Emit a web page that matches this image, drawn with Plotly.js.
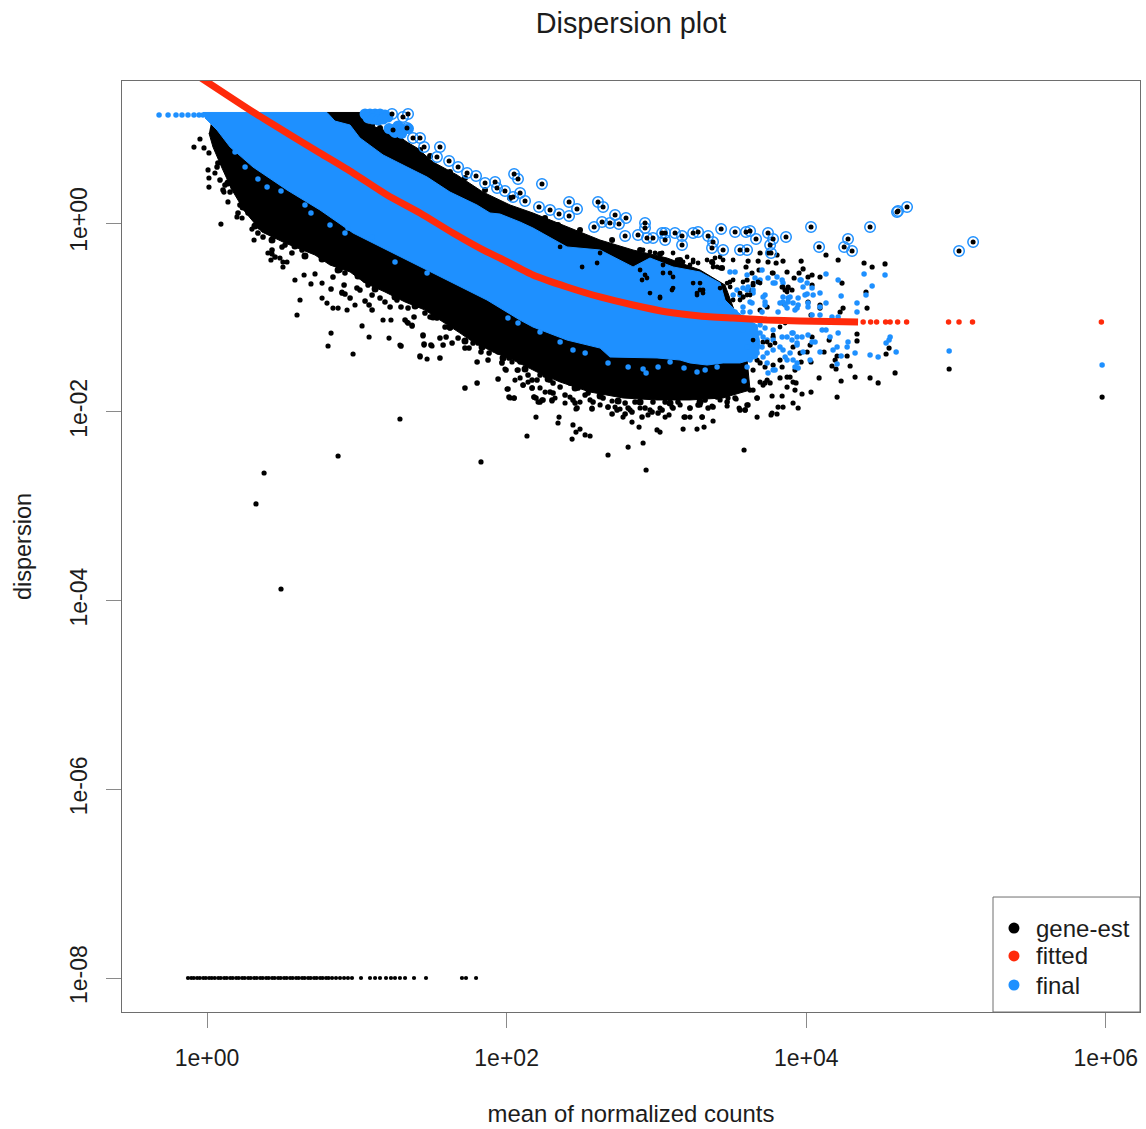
<!DOCTYPE html>
<html><head><meta charset="utf-8">
<script src="https://cdn.plot.ly/plotly-3.0.1.min.js"></script>
<style>html,body{margin:0;padding:0;background:#fff}</style></head>
<body><div id="chart" style="width:1146px;height:1129px"></div>
<script>
// The inner mass of gene-est and final points is too dense to read point by point,
// so those two clouds are kept as outlines.
const geneEstOutline = [[.033,1.113],[.801,1.171],[1.035,1.171],[1.062,1.070],[1.088,1.038],[1.268,.932],[1.335,.858],[1.402,.795],[1.509,.646],[1.669,.509],[1.842,.328],[2.023,.191],[2.176,.106],[2.403,-.042],[2.623,-.180],[2.844,-.286],[3.071,-.371],[3.291,-.498],[3.458,-.657],[3.592,-1.240],[3.625,-1.770],[3.511,-1.822],[3.445,-1.854],[3.224,-1.875],[3.004,-1.875],[2.777,-1.854],[2.557,-1.791],[2.357,-1.685],[2.203,-1.579],[2.043,-1.452],[1.909,-1.367],[1.756,-1.240],[1.689,-1.166],[1.555,-1.028],[1.455,-.922],[1.322,-.837],[1.188,-.731],[1.055,-.636],[.955,-.519],[.821,-.445],[.721,-.339],[.521,-.212],[.367,-.095],[.254,.117],[.167,.350],[.100,.583],[.040,.805],[.013,.954]];

const finalOutline = [[-.027,1.171],[.801,1.171],[.854,1.080],[.955,1.038],[1.021,.901],[1.175,.721],[1.335,.593],[1.469,.487],[1.622,.328],[1.802,.191],[1.889,.106],[1.956,.095],[2.089,.011],[2.176,-.053],[2.403,-.254],[2.623,-.286],[2.844,-.466],[2.957,-.371],[3.111,-.466],[3.291,-.519],[3.425,-.636],[3.458,-.816],[3.525,-.922],[3.592,-1.007],[3.672,-1.081],[3.692,-1.293],[3.672,-1.430],[3.558,-1.483],[3.445,-1.483],[3.338,-1.505],[3.224,-1.483],[3.158,-1.452],[3.004,-1.430],[2.777,-1.420],[2.690,-1.420],[2.624,-1.325],[2.403,-1.240],[2.176,-1.102],[2.089,-1.028],[1.869,-.816],[1.642,-.636],[1.422,-.466],[1.202,-.286],[.975,-.106],[.754,.138],[.534,.350],[.307,.593],[.154,.805],[.067,.985],[-.013,1.113]];

const geneEstLeft = [[-.087,.805],[-.047,.890],[-.020,.795],[.013,.742],[.007,.562],[.013,.477],[.013,.381],[.053,.530],[.093,-.011],[.140,.223],[.113,.328],[.200,.064],[.234,.053],[.300,-.064],[.314,-.180],[.407,-.318],[.434,-.328],[.427,-.392],[.487,-.371],[.507,-.413],[.534,-.413],[.507,-.466],[.587,-.604],[.648,-.551],[.694,-.646],[.721,-.540],[.768,-.636],[.621,-.816],[.601,-.975],[.768,-.795],[.801,-.848],[.841,-.901],[.875,-.901],[.901,-.731],[.935,-.922],[.988,-.869],[.828,-1.166],[.808,-1.303],[1.035,-1.091],[1.082,-1.208],[1.175,-1.028],[1.228,-1.028],[1.215,-1.219],[1.335,-1.049],[1.369,-1.081],[1.288,-1.293],[1.442,-1.197],[1.449,-1.293],[1.502,-1.303],[.975,-1.388],[1.422,-1.420],[1.469,-1.441],[.494,-3.878],[.327,-2.977],[.381,-2.649],[.875,-2.469],[1.288,-2.077],[1.829,-2.532]];

const geneEstMiddle = [[2.136,-2.257],[2.437,-2.289],[2.463,-2.215],[2.490,-2.183],[2.524,-2.246],[2.557,-2.257],[2.443,-2.140],[2.677,-2.458],[2.811,-2.374],[2.911,-2.331],[3.585,-2.405],[2.931,-2.617],[2.196,-2.056],[2.350,-2.056],[2.343,-2.119],[2.837,-2.109],[2.884,-2.162],[3.004,-2.193],[3.024,-2.215],[3.178,-2.183],[3.271,-2.183],[3.318,-2.162],[3.378,-2.098],[3.184,-2.056],[3.224,-2.056],[3.305,-2.056],[3.084,-2.034],[3.058,-2.056],[2.944,-2.034],[2.777,-2.056],[2.724,-1.950],[2.677,-1.950],[2.570,-1.960],[2.463,-1.971],[2.303,-1.886],[2.236,-1.875],[2.210,-1.897],[2.183,-1.844],[2.110,-1.717],[2.003,-1.759],[2.023,-1.854],[2.050,-1.854],[2.170,-1.748],[2.070,-1.558],[1.989,-1.547],[1.969,-1.473],[2.036,-1.473],[3.472,-1.939],[3.532,-1.865],[3.552,-1.960],[3.592,-1.981],[3.612,-1.928],[3.672,-2.056],[3.772,-2.013],[3.805,-2.024],[3.812,-1.950],[3.845,-1.950],[3.912,-1.907],[3.946,-1.960],[3.772,-1.833],[3.839,-1.833],[3.672,-1.854],[3.645,-1.770],[3.912,-1.685],[3.872,-1.632],[3.925,-1.558],[3.725,-1.695],[3.739,-1.664],[3.839,-1.526],[2.257,-1.791],[2.323,-1.854],[2.390,-1.907],[2.423,-1.844],[2.490,-1.897],[2.557,-1.875],[2.624,-1.928],[2.704,-1.886],[2.757,-1.971],[2.824,-1.981],[2.891,-1.960],[2.957,-1.981],[3.024,-1.960],[3.104,-1.950],[3.158,-1.928],[3.224,-1.960],[3.291,-1.928],[3.371,-1.939],[3.425,-1.875],[3.478,-1.854],[2.090,-1.642],[2.143,-1.685],[2.223,-1.748],[2.056,-1.664]];

const geneEstRight = [[3.765,-2.034],[4.206,-1.844],[4.032,-1.791],[3.972,-1.812],[4.086,-1.642],[4.233,-1.674],[4.326,-1.632],[4.426,-1.642],[4.480,-1.695],[4.593,-1.589],[4.954,-1.547],[5.975,-1.844],[4.172,-1.515],[4.199,-1.547],[4.293,-1.515],[4.206,-1.409],[4.273,-1.409],[4.119,-1.367],[4.193,-1.452],[4.533,-1.388],[4.553,-1.325],[4.339,-1.250],[4.339,-1.176],[4.153,-1.240],[4.026,-1.293],[4.006,-1.367],[4.032,-1.473],[3.966,-1.473],[3.932,-1.695],[3.925,-1.770],[3.872,-1.738],[3.825,-1.642],[3.892,-1.632],[3.759,-1.695],[3.712,-1.717],[3.692,-1.685],[3.625,-1.770],[3.725,-1.526],[3.692,-1.483],[3.645,-1.558],[3.578,-1.632],[4.132,-.339],[4.213,-.392],[4.386,-.424],[4.440,-.466],[4.526,-.434],[4.399,-.731],[4.239,-.636],[4.246,-.901],[4.226,-.943],[4.406,-.901],[4.092,-.572],[4.039,-.657],[4.012,-.572],[4.039,-.551],[3.966,-.403],[3.979,-.487],[3.952,-.530],[3.919,-.583],[3.845,-.403],[3.799,-.424],[3.745,-.413],[3.679,-.403],[3.612,-.403],[3.692,-.318],[3.745,-.318],[3.805,-.339],[3.598,-.466],[3.638,-.530],[3.685,-.498],[3.779,-.530],[3.872,-.519],[3.839,-.678],[3.879,-.678],[3.859,-.710],[3.905,-.710],[4.012,-.837],[4.092,-.869],[4.092,-.901],[4.032,-.975],[3.845,-.848],[3.605,-.604],[3.645,-.657],[3.578,-.784],[3.625,-.710],[3.692,-.922],[3.739,-.890],[3.712,-1.261],[3.759,-1.293],[3.779,-1.208],[3.912,-1.314],[3.959,-1.378],[4.039,-1.208],[3.825,-1.452],[3.779,-1.505],[3.672,-1.452]];

const geneEstUpperRim = [[1.102,1.038],[1.155,1.007],[1.288,.901],[1.422,.773],[1.489,.710],[1.622,.540],[1.722,.477],[1.856,.350],[2.023,.265],[2.256,.053],[2.343,-.021],[2.490,-.074],[2.704,-.180],[2.891,-.286],[3.024,-.328],[3.158,-.392],[3.371,-.413],[3.438,-.477]];

const geneEstRimLeft = [[.073,.636],[.067,.593],[.087,.456],[.120,.403],[.107,.350],[.154,.328],[.174,.381],[.207,.106],[.220,.191],[.254,.159],[.340,-.106],[.374,-.148],[.354,-.042],[.274,.106],[.434,-.286],[.454,-.360],[.501,-.254],[.521,-.233],[.567,-.318],[.634,-.286],[.701,-.254],[.741,-.254],[.841,-.572],[.828,-.699],[.888,-.498],[.921,-.530],[.915,-.657],[.901,-.742],[.921,-.752],[.955,-.795],[1.001,-.689],[1.021,-.710],[1.055,-.604],[1.075,-.657],[1.102,-.763],[1.055,-.826],[1.082,-.869],[1.102,-.922],[1.155,-.795],[1.188,-.837],[1.222,-.890],[1.268,-.816],[1.295,-.890],[1.342,-.901],[1.322,-1.028],[1.342,-1.060],[1.369,-1.091],[1.382,-.996],[1.409,-.869],[1.455,-.954],[1.489,-.996],[1.535,-.922],[1.589,-1.007],[1.589,-1.102],[1.622,-1.113],[1.669,-1.081],[1.535,-1.007],[1.442,-1.187],[1.295,-1.303],[1.449,-1.282],[1.495,-1.293],[1.555,-1.219],[1.596,-1.208],[1.576,-1.293],[1.636,-1.272],[1.676,-1.219],[1.422,-1.409],[1.555,-1.430]];

const geneEstRimMiddle = [[1.722,-1.325],[1.749,-1.325],[1.776,-1.272],[1.809,-1.272],[1.829,-1.367],[1.856,-1.293],[1.883,-1.378],[1.803,-1.473],[1.876,-1.452],[1.943,-1.367],[1.969,-1.483],[1.996,-1.558],[2.016,-1.430],[2.056,-1.346],[2.076,-1.558],[2.090,-1.473],[1.943,-1.653],[1.803,-1.695],[1.722,-1.748],[2.110,-1.717],[2.143,-1.611],[2.170,-1.664],[2.203,-1.664],[2.170,-1.748],[2.223,-1.611],[2.257,-1.611],[2.290,-1.664],[2.310,-1.695],[2.357,-1.738],[2.290,-1.791],[2.310,-1.801],[2.009,-1.759],[2.016,-1.844],[2.050,-1.854],[2.183,-1.844],[2.196,-1.854],[2.223,-1.897],[2.243,-1.875],[2.303,-1.875],[2.390,-1.822],[2.443,-1.875],[2.457,-1.907],[2.470,-1.960],[2.524,-1.822],[2.544,-1.801],[2.477,-1.748],[2.423,-1.695],[2.577,-1.897],[2.570,-1.971],[2.644,-1.854],[2.677,-1.950],[2.737,-1.981],[2.704,-2.024],[2.791,-1.907],[2.811,-1.960],[2.837,-2.003],[2.791,-2.024],[2.857,-1.897],[2.924,-1.960],[2.977,-1.897],[2.971,-2.003],[3.011,-2.013],[3.038,-1.981],[3.058,-1.897],[3.111,-1.960],[3.144,-1.897],[3.224,-1.960],[3.278,-1.928],[3.325,-1.875],[3.345,-1.960],[3.378,-1.950],[3.472,-1.897],[3.405,-1.844],[3.525,-1.854],[3.558,-1.981],[3.592,-1.981],[3.605,-1.928],[3.672,-1.854],[2.904,-2.056],[3.191,-2.056],[3.305,-2.056]];

const geneEstRimInner = [[.140,.424],[.240,.170],[.320,-.032],[.434,-.180],[.587,-.244],[.654,-.350],[.768,-.381],[.875,-.498],[1.008,-.562],[1.122,-.699],[1.255,-.784],[1.389,-.879],[1.509,-.996],[1.622,-1.102],[1.722,-1.250],[1.836,-1.314],[1.976,-1.430],[2.123,-1.547],[2.277,-1.653],[2.457,-1.748],[2.624,-1.833],[2.744,-1.886],[2.891,-1.897],[3.091,-1.907],[3.291,-1.897]];

const geneEstZeroMeans = [-.127,-.105,-.088,-.066,-.048,-.025,-.008,.014,.032,.052,.075,.092,.115,.132,.155,.172,.195,.212,.235,.252,.275,.292,.315,.332,.355,.372,.395,.412,.435,.452,.475,.492,.515,.532,.555,.572,.595,.612,.635,.652,.675,.692,.715,.732,.755,.772,.795,.812,.835,.861,.888,.915,.941,.968,1.028,1.088,1.122,1.155,1.195,1.228,1.255,1.288,1.322,1.382,1.462,1.702,1.729,1.796];
const geneEstZeroLevel = -8;

// gene-est points seen through gaps in the final cloud
const geneEstThrough = [[2.891,-.498],[2.937,-.583],[3.044,-.445],[3.091,-.530],[3.024,-.784],[3.111,-.689],[3.291,-.636],[3.405,-.466],[3.378,-.424],[3.271,-.742],[3.311,-.710],[3.512,-.604],[3.578,-.784],[3.625,-.763],[2.504,-.466],[2.357,-.254],[2.604,-.424],[2.624,-.318],[2.777,-.286],[2.844,-.360],[3.138,-.392],[3.245,-.413],[3.205,-.360],[3.425,-.360],[3.512,-.392],[3.492,-.678],[3.558,-.742],[3.645,-1.240],[2.911,-.286],[2.957,-.307],[2.991,-.318],[3.038,-.318],[3.111,-.318],[3.144,-.392],[3.178,-.413],[3.224,-.445],[3.278,-.424],[3.338,-.392],[3.378,-.466],[3.425,-.477],[3.445,-.392],[3.245,-.392],[3.391,-.371],[3.104,-.710],[2.957,-.742],[3.024,-.795],[2.904,-.604],[2.924,-.551],[3.044,-.530],[3.111,-.572],[3.245,-.636],[3.291,-.710],[3.311,-.742],[3.271,-.763],[3.425,-.689],[3.472,-.636],[3.491,-.625],[3.512,-.816],[3.558,-.816],[3.605,-.763],[3.645,-.636],[3.678,-.625],[3.578,-.625],[3.845,-.678],[3.879,-.689],[3.872,-.731],[3.692,-.636],[3.772,-.530],[3.779,-1.187],[3.792,-1.272],[3.739,-1.261],[3.825,-1.102],[3.859,-1.060]];

const finalRight = [[4.132,-.540],[4.213,-.604],[4.386,-.540],[4.526,-.551],[4.440,-.668],[4.399,-.763],[4.233,-.774],[4.092,-.742],[4.132,-.848],[4.039,-.689],[4.006,-.752],[4.046,-.763],[4.012,-.890],[4.092,-.890],[4.339,-.848],[4.339,-.943],[4.172,-.996],[4.213,-.996],[4.092,-.975],[4.039,-.975],[3.946,-.795],[3.946,-.869],[3.845,-.784],[3.879,-.837],[3.825,-.848],[3.892,-.784],[3.859,-.869],[3.925,-.922],[3.779,-.636],[3.745,-.583],[3.805,-.572],[3.845,-.636],[3.966,-.604],[3.979,-.678],[3.705,-.498],[3.692,-.604],[3.645,-.710],[3.605,-.710],[3.578,-.890],[3.638,-.848],[3.712,-.784],[3.725,-.869],[4.106,-1.134],[4.132,-1.134],[4.213,-1.166],[4.159,-1.208],[4.039,-1.261],[4.059,-1.261],[4.012,-1.187],[3.905,-1.166],[3.939,-1.208],[3.905,-1.240],[3.939,-1.293],[4.279,-1.261],[4.273,-1.314],[4.206,-1.314],[4.179,-1.346],[4.092,-1.367],[4.326,-1.378],[4.426,-1.399],[4.480,-1.420],[4.600,-1.367],[4.533,-1.271],[4.560,-1.208],[4.553,-1.240],[4.954,-1.356],[5.975,-1.505],[4.233,-1.409],[4.206,-1.494],[4.026,-1.452],[3.946,-1.536],[3.912,-1.452],[3.859,-1.420],[3.792,-1.558],[3.745,-1.589],[3.825,-1.314],[3.779,-1.240],[3.692,-1.166],[3.605,-1.314],[3.672,-1.378],[3.739,-1.378],[3.779,-1.346],[3.839,-1.208],[3.578,-1.134],[3.625,-1.452],[3.712,-1.420]];

const finalRightInner = [[3.491,-.519],[3.525,-.519],[3.605,-.551],[3.658,-.583],[3.678,-.625],[3.538,-.710],[3.578,-.689],[3.612,-.678],[3.512,-.763],[3.558,-.763],[3.625,-.837],[3.645,-.742],[3.725,-.763],[3.725,-.837],[3.792,-.636],[3.839,-.604],[3.425,-.848],[3.472,-.890],[3.525,-.943],[3.578,-.943],[3.625,-.943],[3.705,-.943],[3.812,-.943],[3.845,-.837],[3.879,-.795],[3.912,-.848],[3.939,-.901],[3.872,-.901],[3.992,-.763],[4.012,-.848],[3.959,-.604],[4.006,-.636],[3.692,-1.081],[3.725,-1.113],[3.712,-1.208],[3.739,-1.240],[3.705,-1.314],[3.872,-1.208],[3.912,-1.166],[3.845,-1.346],[3.892,-1.378],[3.939,-1.272],[3.972,-1.208],[3.979,-1.367],[3.872,-1.452],[3.939,-1.483],[3.779,-1.134]];

const finalEdge = [[.187,.752],[.254,.593],[.340,.466],[.401,.381],[.494,.339],[.654,.191],[.694,.106],[.821,-.021],[.921,-.106],[.941,-.053],[1.102,-.148],[1.255,-.413],[1.469,-.530],[2.009,-1.007],[2.076,-1.060],[2.223,-1.155],[2.357,-1.261],[2.443,-1.346],[2.524,-1.378],[2.677,-1.483],[2.811,-1.526],[2.911,-1.547],[2.931,-1.589],[3.011,-1.526],[3.091,-1.473],[3.184,-1.536],[3.271,-1.579],[3.325,-1.558],[3.405,-1.526],[3.585,-1.674],[3.605,-1.526],[3.739,-1.483],[3.779,-1.558],[3.925,-1.526]];

const finalCeiling = [[-.320,1.144],[-.260,1.144],[-.207,1.144],[-.167,1.144],[-.127,1.144],[-.087,1.144],[-.053,1.144],[-.027,1.144]];

const outlierCluster = [[1.055,1.155],[1.088,1.155],[1.122,1.155],[1.155,1.155],[1.188,1.144],[1.075,1.113],[1.108,1.102],[1.142,1.091],[1.175,1.102],[1.208,1.123],[1.275,1.028],[1.302,.996],[1.215,1.000],[1.255,.960],[1.300,.950],[1.345,1.000]];

const outliers = [[1.235,1.155],[1.342,1.155],[1.308,1.123],[1.242,.985],[1.335,1.007],[1.375,.901],[1.422,.901],[1.449,.805],[1.555,.805],[1.535,.699],[1.616,.657],[1.676,.593],[1.736,.530],[1.796,.498],[1.856,.424],[1.923,.434],[1.936,.371],[1.989,.339],[2.043,.275],[2.050,.519],[2.076,.466],[2.090,.318],[2.123,.233],[2.236,.413],[2.216,.170],[2.290,.138],[2.350,.095],[2.417,.223],[2.470,.148],[2.417,.074],[2.610,.223],[2.644,.170],[2.724,.085],[2.797,.053],[2.584,-.042],[2.637,.011],[2.690,0],[2.750,-.011],[2.924,0],[2.924,-.053],[2.791,-.138],[2.877,-.127],[2.937,-.159],[2.977,-.159],[3.038,-.106],[3.058,-.106],[3.124,-.106],[3.171,-.138],[3.171,-.233],[3.058,-.180],[3.245,-.106],[3.278,-.095],[3.345,-.138],[3.378,-.201],[3.371,-.265],[3.445,-.286],[3.432,-.064],[3.525,-.095],[3.598,-.095],[3.625,-.085],[3.665,-.170],[3.558,-.286],[3.605,-.286],[3.745,-.106],[3.779,-.170],[3.759,-.233],[3.765,-.318],[3.865,-.148],[4.032,-.042],[4.086,-.254],[4.279,-.170],[4.253,-.254],[4.306,-.297],[4.426,-.042],[4.606,.117],[4.613,.127],[4.673,.170],[5.020,-.297],[5.114,-.201]];

const fittedCurve = [[-.06,1.558],[.307,1.176],[.534,.954],[.754,.742],[.975,.530],[1.202,.297],[1.422,.106],[1.642,-.106],[1.869,-.307],[1.956,-.371],[2.176,-.551],[2.403,-.678],[2.623,-.784],[2.844,-.869],[3.071,-.943],[3.291,-.985],[3.511,-1.007],[3.738,-1.028],[3.959,-1.038],[4.159,-1.044],[4.346,-1.049]];
const fittedTail = [[4.38,-1.049],[4.43,-1.049],[4.47,-1.049],[4.53,-1.049],[4.56,-1.049],[4.61,-1.049],[4.67,-1.049],[4.95,-1.049],[5.02,-1.049],[5.11,-1.049],[5.97,-1.049]];

const titleText = 'Dispersion plot';
const xLabel = 'mean of normalized counts';
const yLabel = 'dispersion';
const xTicks = [1, 100, 10000, 1000000];
const xTickLabels = ['1e+00', '1e+02', '1e+04', '1e+06'];
const yTicks = [1, 0.01, 0.0001, 0.000001, 0.00000001];
const yTickLabels = ['1e+00', '1e-02', '1e-04', '1e-06', '1e-08'];
const legendNames = ['gene-est', 'fitted', 'final'];

const BLACK = '#000000', RED = '#FF2A0A', BLUE = '#1E90FF', INK = '#1c1c1c', FRAME = '#6e6e6e';
const FONT = '"Liberation Sans", Arial, sans-serif';
const legendColors = [BLACK, RED, BLUE];
const legendRows = [0.0902, 0.0602, 0.0290];

const X = a => a.map(p => 10 ** p[0]);
const Y = a => a.map(p => 10 ** p[1]);
const dots = (a, color, size) => ({type:'scatter', mode:'markers', x:X(a), y:Y(a), hoverinfo:'skip', showlegend:false,
  marker:{color, size, line:{width:0}}});
const cloud = (a, color) => ({type:'scatter', mode:'lines', fill:'toself', fillcolor:color, x:X(a), y:Y(a), hoverinfo:'skip', showlegend:false,
  line:{color, width:1}});

const traces = [
  cloud(geneEstOutline, BLACK),
  dots(geneEstLeft, BLACK, 5.2), dots(geneEstMiddle, BLACK, 5.2), dots(geneEstRight, BLACK, 5.2),
  dots(geneEstUpperRim, BLACK, 6), dots(geneEstRimLeft, BLACK, 5.6), dots(geneEstRimMiddle, BLACK, 5.6), dots(geneEstRimInner, BLACK, 7),
  {type:'scatter', mode:'markers', x:geneEstZeroMeans.map(v => 10 ** v), y:geneEstZeroMeans.map(() => 10 ** geneEstZeroLevel), hoverinfo:'skip', showlegend:false,
   marker:{color:BLACK, size:4.2, line:{width:0}}},
  cloud(finalOutline, BLUE),
  dots(finalRight, BLUE, 5.5), dots(finalRightInner, BLUE, 5.5), dots(finalEdge, BLUE, 5.5), dots(finalCeiling, BLUE, 5.5),
  dots(geneEstThrough, BLACK, 4.8),
  dots(outlierCluster, BLUE, 11),
  {type:'scatter', mode:'markers', x:X(outliers), y:Y(outliers), hoverinfo:'skip', showlegend:false,
   marker:{symbol:'circle-open', color:BLUE, size:10.5, line:{color:BLUE, width:1.5}}},
  dots(outliers, BLACK, 5),
  {type:'scatter', mode:'lines', x:X(fittedCurve), y:Y(fittedCurve), hoverinfo:'skip', showlegend:false, line:{color:RED, width:7, shape:'spline', smoothing:0.6}},
  dots(fittedTail, RED, 5.5)
];

const axisBase = {type:'log', showgrid:false, zeroline:false, showline:true, mirror:true, linecolor:FRAME, linewidth:1,
  ticks:'outside', ticklen:15, tickwidth:1, tickcolor:'#8a8a8a', tickmode:'array', tickfont:{family:FONT, size:23, color:INK}};

const layout = {
  width:1146, height:1129, paper_bgcolor:'#fff', plot_bgcolor:'#fff', showlegend:false, hovermode:false,
  margin:{l:122, r:6, t:81, b:117},
  font:{family:FONT, color:INK},
  title:{text:titleText, font:{family:FONT, size:28.8, color:INK}, x:0.5, xref:'paper', xanchor:'center', y:0.9796, yref:'container', yanchor:'middle'},
  xaxis:{...axisBase, range:[-0.5674, 6.228], tickvals:xTicks, ticktext:xTickLabels, ticklabelstandoff:10,
    title:{text:xLabel, font:{family:FONT, size:23.9, color:INK}, standoff:35}},
  yaxis:{...axisBase, range:[-8.360, 1.5046], tickvals:yTicks, ticktext:yTickLabels, tickangle:-90, ticklabelstandoff:10,
    title:{text:yLabel, font:{family:FONT, size:23.5, color:INK}, standoff:27}},
  shapes:[
    {type:'rect', xref:'paper', yref:'paper', x0:0.8556, x1:1, y0:0, y1:0.1235, line:{color:FRAME, width:1}, fillcolor:'#fff', layer:'above'},
    ...legendRows.map((y, i) => ({type:'circle', layer:'above', xref:'paper', yref:'paper', xsizemode:'pixel', ysizemode:'pixel',
      xanchor:0.8762, yanchor:y, x0:-5.5, x1:5.5, y0:-5.5, y1:5.5, fillcolor:legendColors[i], line:{width:0}}))
  ],
  annotations: legendRows.map((y, i) => ({xref:'paper', yref:'paper', x:0.8969, y, xanchor:'left', yanchor:'middle', showarrow:false,
    text:legendNames[i], font:{family:FONT, size:24, color:INK}, borderpad:0}))
};

Plotly.newPlot('chart', traces, layout, {displayModeBar:false, responsive:false});
</script></body></html>
